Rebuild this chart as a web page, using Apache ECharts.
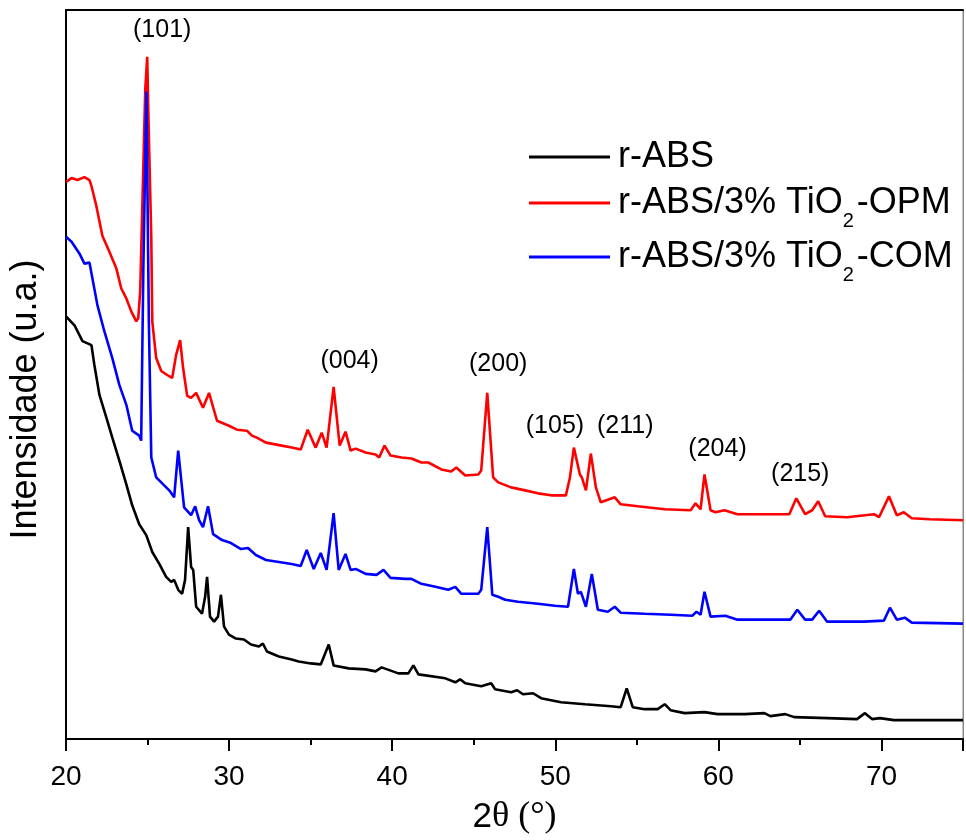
<!DOCTYPE html>
<html>
<head>
<meta charset="utf-8">
<script src="https://cdn.jsdelivr.net/npm/echarts@6/dist/echarts.min.js"></script>
<style>
  html, body { margin: 0; padding: 0; background: #ffffff; }
  #chart { width: 966px; height: 840px; }
</style>
</head>
<body>
<div id="chart"></div>
<script>
// XRD patterns: [2θ (°), intensity (a.u., offset stacked)]
const absPattern = [
  [20.0,425],[20.52,416],[21.01,400],[21.56,396],[21.74,376],[22.05,346],[22.48,323],[22.84,303],
  [23.27,280],[23.70,256],[24.06,235],[24.49,216],[24.92,205],[25.29,188],[25.72,176],[26.14,163],
  [26.45,158],[26.63,160],[26.88,150],[27.12,146],[27.30,160],[27.49,213],[27.67,173],[27.80,170],
  [27.98,133],[28.34,126],[28.53,143],[28.65,163],[28.83,123],[29.08,118],[29.32,123],[29.50,145],
  [29.69,113],[29.99,105],[30.42,101],[30.91,100],[31.34,95],[31.83,93],[32.07,96],[32.32,88],
  [33.05,83],[33.84,80],[34.27,78],[35.01,76],[35.62,75],[36.11,95],[36.41,74],[37.33,71],
  [38.37,70],[38.98,68],[39.35,72],[40.38,66],[40.99,66],[41.30,74],[41.61,65],[43.26,61],
  [43.87,57],[44.17,60],[44.48,56],[45.46,53],[46.07,56],[46.31,50],[47.29,47],[47.66,49],
  [48.02,45],[48.64,46],[49.13,41],[50.35,37],[51.82,35],[53.41,33],[54.01,32],[54.38,51],
  [54.75,32],[55.48,30],[56.28,30],[56.71,35],[57.07,29],[57.93,26],[59.15,27],[59.95,25],
  [61.60,25],[62.82,26],[63.19,23],[64.10,25],[64.65,22],[66.67,21],[68.50,20],[68.99,26],
  [69.42,20],[69.91,21],[70.76,19],[72.78,19],[75.0,19]
];

const opmPattern = [
  [20.0,560],[20.34,564],[20.70,562],[21.13,565],[21.44,562],[21.56,556],[21.86,536],[22.23,506],
  [22.66,490],[23.09,473],[23.39,453],[23.70,443],[24.00,430],[24.31,420],[24.43,423],[24.55,450],
  [24.68,536],[24.86,653],[24.98,686],[25.04,636],[25.23,503],[25.29,420],[25.53,383],[25.84,370],
  [26.20,366],[26.51,363],[26.75,386],[27.00,401],[27.18,373],[27.43,345],[27.67,343],[27.98,348],
  [28.40,333],[28.77,348],[29.26,320],[29.99,315],[30.48,311],[31.09,310],[31.40,305],[31.70,303],
  [32.26,298],[33.23,295],[33.84,293],[34.39,291],[34.82,311],[35.31,293],[35.68,308],[35.98,293],
  [36.41,354],[36.78,295],[37.14,309],[37.45,290],[37.76,292],[38.37,288],[38.98,286],[39.20,283],
  [39.53,295],[39.90,285],[40.57,283],[41.18,282],[41.79,278],[42.22,278],[43.01,271],[43.62,269],
  [43.93,273],[44.48,265],[45.28,266],[45.46,270],[45.83,348],[46.19,263],[46.50,258],[47.29,253],
  [48.15,250],[48.94,247],[49.74,245],[50.65,245],[50.90,263],[51.14,293],[51.51,266],[51.63,263],
  [51.88,250],[52.18,287],[52.49,253],[52.79,238],[53.65,243],[54.01,236],[55.06,234],[56.71,231],
  [58.30,230],[58.60,237],[58.91,231],[59.15,266],[59.52,230],[59.82,228],[60.37,230],[61.17,226],
  [62.82,226],[64.35,226],[64.78,242],[65.32,226],[65.75,230],[66.12,239],[66.55,224],[67.89,223],
  [69.54,226],[69.85,223],[70.46,244],[70.94,225],[71.37,228],[71.86,222],[72.96,221],[75.0,220]
];

const comPattern = [
  [20.0,505],[20.34,500],[20.83,488],[21.13,478],[21.44,479],[21.62,463],[21.93,436],[22.35,410],
  [22.84,383],[23.27,356],[23.70,336],[24.06,310],[24.49,305],[24.61,300],[24.74,470],[24.93,651],
  [25.08,420],[25.23,283],[25.53,263],[26.02,255],[26.33,250],[26.63,243],[26.88,290],[27.24,233],
  [27.67,225],[27.92,234],[28.16,220],[28.40,213],[28.71,234],[29.02,206],[29.57,200],[30.12,197],
  [30.73,191],[31.16,192],[31.64,185],[32.26,180],[33.05,178],[33.84,176],[34.39,174],[34.76,190],
  [35.19,171],[35.62,187],[35.98,170],[36.41,227],[36.72,170],[37.14,186],[37.45,170],[37.76,171],
  [38.37,166],[39.04,165],[39.47,170],[39.90,162],[40.81,161],[41.18,161],[41.79,156],[42.65,153],
  [43.44,150],[43.87,153],[44.24,146],[45.28,146],[45.46,150],[45.83,213],[46.14,145],[46.50,143],
  [46.93,140],[47.72,138],[48.94,136],[49.98,134],[50.78,133],[51.14,171],[51.39,146],[51.57,148],
  [51.88,133],[52.24,166],[52.61,130],[53.22,128],[53.65,133],[54.01,127],[55.48,126],[57.07,125],
  [58.41,124],[58.66,128],[58.91,125],[59.15,148],[59.52,123],[60.43,124],[61.17,120],[64.41,120],
  [64.84,130],[65.32,120],[65.75,120],[66.18,129],[66.67,118],[68.93,118],[70.15,119],[70.52,132],
  [70.94,120],[71.43,122],[71.86,117],[75.0,116]
];

// Miller index annotations
const peakNames  = ['(101)', '(004)', '(200)', '(105)', '(211)', '(204)', '(215)'];
const peakLabelX = [25.9, 37.39, 46.5, 49.98, 54.29, 59.95, 65.02];
const peakLabelY = [713, 380, 377, 315, 315, 291, 266];

const xTickLabels = [20, 30, 40, 50, 60, 70];
const seriesNames = ['r-ABS', 'r-ABS/3% TiO2-OPM', 'r-ABS/3% TiO2-COM'];
const seriesColors = ['#000000', '#ff0000', '#0000ff'];

const SANS = "'Liberation Sans', Arial, sans-serif";
const SERIF = "'Liberation Serif', 'Times New Roman', serif";

// Legend label with a subscript 2 in TiO2
function legendText(name) {
  const i = name.indexOf('TiO2');
  if (i < 0) return '{a|' + name + '}';
  return '{a|' + name.slice(0, i + 3) + '}{s|2}{a|' + name.slice(i + 4) + '}';
}

function makeLegend(name, top, lineH) {
  return {
    data: [name],
    left: 529,
    top: top,
    padding: 0,
    icon: 'rect',
    itemWidth: 81,
    itemHeight: 3,
    selectedMode: false,
    formatter: legendText,
    textStyle: {
      color: '#000',
      fontFamily: SANS,
      rich: {
        a: { fontSize: 36, fontFamily: SANS, color: '#000', lineHeight: lineH, padding: [0, 0, 0, 3] },
        s: { fontSize: 20, fontFamily: SANS, color: '#000', lineHeight: 20, verticalAlign: 'bottom' }
      }
    }
  };
}

const chart = echarts.init(document.getElementById('chart'), null, { renderer: 'canvas' });

const patterns = [absPattern, opmPattern, comPattern];

chart.setOption({
  animation: false,
  backgroundColor: '#ffffff',
  grid: {
    left: 66, right: 1, top: 10, bottom: 97,
    show: true, borderColor: '#888', borderWidth: 1, backgroundColor: 'transparent'
  },
  legend: [
    makeLegend(seriesNames[0], 139, 40),
    makeLegend(seriesNames[1], 185, 56),
    makeLegend(seriesNames[2], 239, 56)
  ],
  xAxis: [{
    type: 'value',
    min: 20, max: 75, interval: 10,
    position: 'bottom',
    name: '{a|2}{b|θ (°)}',
    nameLocation: 'middle',
    nameGap: 60,
    nameTextStyle: {
      rich: {
        a: { fontSize: 35, fontFamily: SANS, color: '#000' },
        b: { fontSize: 36, fontFamily: SERIF, color: '#000' }
      }
    },
    axisLine: { show: true, onZero: false, lineStyle: { color: '#000', width: 2 } },
    axisTick: { show: true, inside: false, length: 12, lineStyle: { color: '#000', width: 2 } },
    minorTick: { show: true, splitNumber: 2, length: 6, lineStyle: { color: '#000', width: 2 } },
    splitLine: { show: false },
    axisLabel: {
      margin: 24, fontSize: 28, fontFamily: SANS, color: '#000',
      formatter: v => (xTickLabels.indexOf(v) >= 0 ? String(v) : '')
    }
  }, {
    type: 'value',
    min: 20, max: 75, interval: 10,
    position: 'top',
    axisLine: { show: true, onZero: false, lineStyle: { color: '#000', width: 2 } },
    axisTick: { show: false },
    axisLabel: { show: false },
    splitLine: { show: false }
  }],
  yAxis: [{
    type: 'value',
    min: 0, max: 733,
    position: 'left',
    name: 'Intensidade (u.a.)',
    nameLocation: 'middle',
    nameGap: 22,
    nameTextStyle: { fontSize: 36, fontFamily: SANS, color: '#000', padding: [0, 50, 0, 0] },
    axisLine: { show: true, onZero: false, lineStyle: { color: '#000', width: 2 } },
    axisTick: { show: false },
    axisLabel: { show: false },
    splitLine: { show: false }
  }, {
    type: 'value',
    min: 0, max: 733,
    position: 'right',
    axisLine: { show: true, onZero: false, lineStyle: { color: '#888', width: 1 } },
    axisTick: { show: false },
    axisLabel: { show: false },
    splitLine: { show: false }
  }],
  series: seriesNames.map((name, i) => ({
    name: name,
    type: 'line',
    data: patterns[i],
    showSymbol: false,
    symbol: 'none',
    color: seriesColors[i],
    lineStyle: { color: seriesColors[i], width: 2.6 },
    z: 2 + i
  })).concat([{
    name: 'peaks',
    type: 'scatter',
    symbolSize: 0,
    silent: true,
    data: peakNames.map((n, i) => [peakLabelX[i], peakLabelY[i]]),
    itemStyle: { opacity: 1 },
    label: {
      show: true,
      position: 'inside',
      fontSize: 25,
      fontFamily: SANS,
      color: '#000',
      opacity: 1,
      formatter: p => peakNames[p.dataIndex]
    },
    z: 10
  }])
});
</script>
</body>
</html>
